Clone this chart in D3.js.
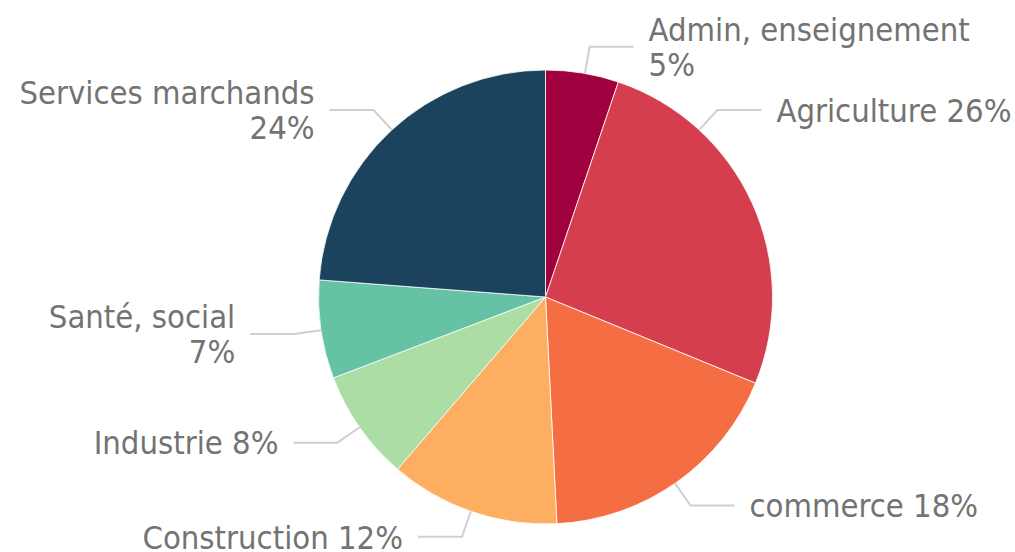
<!DOCTYPE html>
<html>
<head>
<meta charset="utf-8">
<script src="https://cdn.jsdelivr.net/npm/d3@7"></script>
<style>
  body { margin: 0; background: #fff; }
</style>
</head>
<body>
<div id="chart"></div>
<script>
// Data
var sectors = ["Admin, enseignement", "Agriculture", "commerce", "Construction",
               "Industrie", "Santé, social", "Services marchands"];
var shares = [5.2, 26.0, 18.0, 12.1, 7.9, 7.0, 23.8];
var shareLabels = ["5%", "26%", "18%", "12%", "8%", "7%", "24%"];
var colors = ["#a0003e", "#d53e4f", "#f46d43", "#fdae61", "#abdda4", "#66c2a5", "#1b435e"];

// Label layout: angle (deg, clockwise from top) where the leader leaves the pie,
// and whether the percentage goes on its own line
var leaderAngles = [10, 42.6, 145.2, 199.2, 235, 261.6, 317.4];
var wrapped = [true, false, false, false, false, true, true];

var width = 1015, height = 552;
var cx = 545.5, cy = 297, radius = 227;
var elbowRadius = 254, stub = 44, gap = 15, lineHeight = 35;

var svg = d3.select("#chart")
  .append("svg")
    .attr("width", width)
    .attr("height", height);

var g = svg.append("g")
    .attr("transform", "translate(" + cx + "," + cy + ")");

var data = sectors.map(function(d, i) {
  return {name: d, value: shares[i], label: shareLabels[i], color: colors[i],
          angle: leaderAngles[i] * Math.PI / 180, wrap: wrapped[i]};
});

var pie = d3.pie()
    .sort(null)
    .value(function(d) { return d.value; });

var arc = d3.arc()
    .innerRadius(0)
    .outerRadius(radius);

g.selectAll("path.slice")
  .data(pie(data))
  .enter().append("path")
    .attr("class", "slice")
    .attr("d", arc)
    .attr("fill", function(d) { return d.data.color; })
    .attr("stroke", "#fff")
    .attr("stroke-width", 0.8);

function polar(r, a) { return [r * Math.sin(a), -r * Math.cos(a)]; }

var labels = g.selectAll("g.label")
  .data(data)
  .enter().append("g")
    .attr("class", "label");

labels.append("polyline")
    .attr("fill", "none")
    .attr("stroke", "#cfcfcf")
    .attr("stroke-width", 2)
    .attr("points", function(d) {
      var p0 = polar(radius, d.angle), p1 = polar(elbowRadius, d.angle);
      var side = Math.sin(d.angle) >= 0 ? 1 : -1;
      return [p0, p1, [p1[0] + side * stub, p1[1]]].join(" ");
    });

labels.append("text")
    .attr("font-family", "'DejaVu Sans Condensed', 'DejaVu Sans', sans-serif")
    .attr("font-size", 32.5)
    .attr("fill", "#737373")
    .attr("text-anchor", function(d) { return Math.sin(d.angle) >= 0 ? "start" : "end"; })
    .each(function(d) {
      var p1 = polar(elbowRadius, d.angle);
      var side = Math.sin(d.angle) >= 0 ? 1 : -1;
      var x = p1[0] + side * (stub + gap);
      var lines = d.wrap ? [d.name, d.label] : [d.name + " " + d.label];
      var y0 = p1[1] - (lines.length - 1) * lineHeight / 2;
      d3.select(this).selectAll("tspan")
        .data(lines)
        .enter().append("tspan")
          .attr("x", x)
          .attr("y", function(t, i) { return y0 + i * lineHeight; })
          .attr("dy", "0.36em")
          .text(function(t) { return t; });
    });
</script>
</body>
</html>
